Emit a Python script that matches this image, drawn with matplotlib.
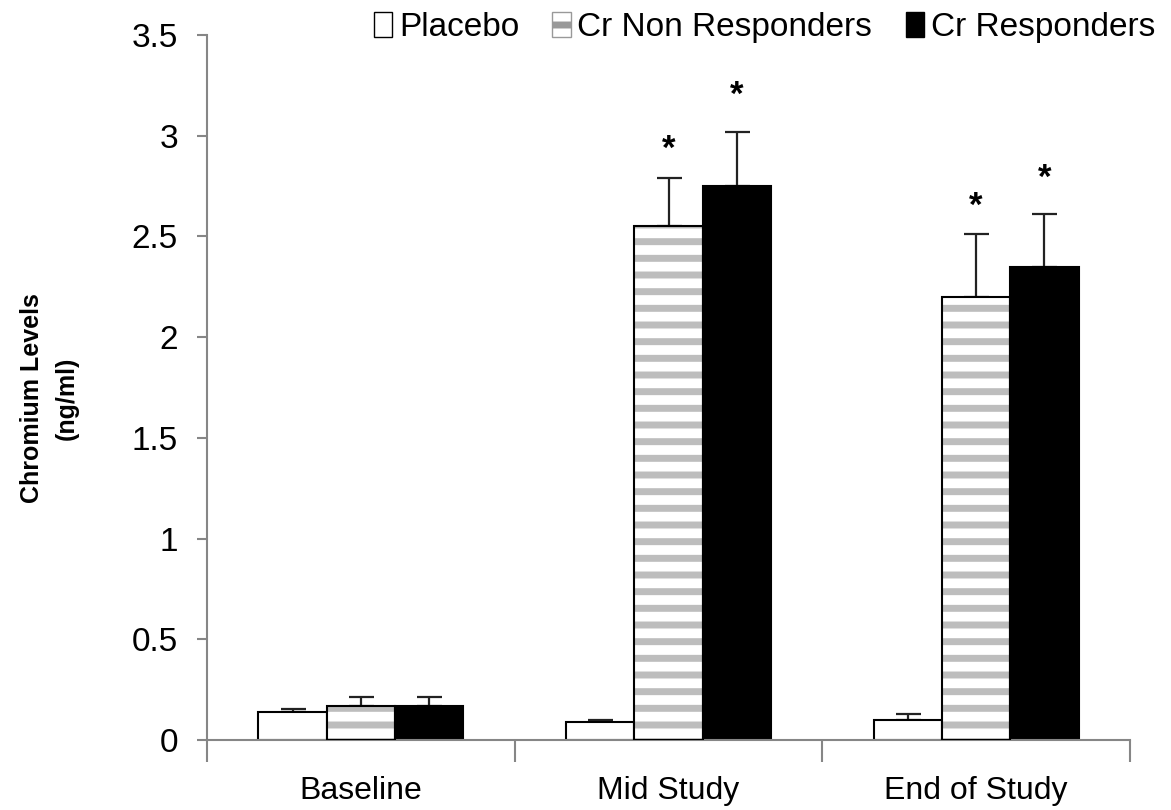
import matplotlib
matplotlib.use("Agg")
import matplotlib.pyplot as plt
import numpy as np
from matplotlib.patches import Patch

plt.rcParams['font.family'] = ['Liberation Sans', 'DejaVu Sans']
plt.rcParams['hatch.linewidth'] = 5.0

categories = ["Baseline", "Mid Study", "End of Study"]
series = ["Placebo", "Cr Non Responders", "Cr Responders"]
placebo = [0.14, 0.088, 0.10]
placebo_err = [0.012, 0.012, 0.03]
nonresp = [0.17, 2.55, 2.20]
nonresp_err = [0.045, 0.24, 0.31]
resp = [0.17, 2.75, 2.35]
resp_err = [0.045, 0.27, 0.26]
nonresp_sig = [False, True, True]
resp_sig = [False, True, True]

fig = plt.figure(figsize=(11.71, 8.10), dpi=100)
ax = fig.add_axes([0.1768, 0.0864, 0.965 - 0.1768, 0.9568 - 0.0864])

x = np.arange(len(categories))
w = 0.222
gray = '#868686'
stripe = '#bdbdbd'

ax.bar(x - w, placebo, w, color='white', edgecolor='black', linewidth=1.5, zorder=2)
# striped fill (hatch uses edge colour), then black outline on top
ax.bar(x, nonresp, w, color='white', edgecolor=stripe, linewidth=0, hatch='-', zorder=2)
ax.bar(x, nonresp, w, fill=False, edgecolor='black', linewidth=1.5, zorder=3)
ax.bar(x + w, resp, w, color='black', edgecolor='black', linewidth=1.5, zorder=2)

for off, vals, errs in [(-w, placebo, placebo_err), (0, nonresp, nonresp_err), (w, resp, resp_err)]:
    ax.errorbar(x + off, vals, yerr=[np.zeros(len(errs)), errs], fmt='none', ecolor='#222222',
                elinewidth=1.6, capsize=9, capthick=1.6, zorder=1)

for i in range(len(categories)):
    if nonresp_sig[i]:
        ax.text(x[i], nonresp[i] + nonresp_err[i] + 0.14, '*', ha='center', va='center', fontsize=25, fontweight='bold')
    if resp_sig[i]:
        ax.text(x[i] + w, resp[i] + resp_err[i] + 0.18, '*', ha='center', va='center', fontsize=25, fontweight='bold')

ax.set_xlim(-0.5, 2.5)
ax.set_ylim(0, 3.5)
ax.set_yticks([0, 0.5, 1, 1.5, 2, 2.5, 3, 3.5])
ax.set_yticklabels(['0', '0.5', '1', '1.5', '2', '2.5', '3', '3.5'])
ax.set_xticks([-0.5, 0.5, 1.5, 2.5])
ax.set_xticklabels([])
ax.set_xticks(x, minor=True)
ax.set_xticklabels(categories, minor=True)
ax.tick_params(axis='x', which='major', length=16, color=gray, width=1.5, direction='out')
ax.tick_params(axis='x', which='minor', length=0, pad=26, labelsize=23)
ax.tick_params(axis='y', length=7, color=gray, width=1.5, pad=14, labelsize=24)

for s in ['top', 'right']:
    ax.spines[s].set_visible(False)
for s in ['left', 'bottom']:
    ax.spines[s].set_color(gray)
    ax.spines[s].set_linewidth(1.5)

fig.text(0.042, 0.508, 'Chromium Levels\n(ng/ml)', rotation=90, ha='center', va='center',
         fontsize=18, fontweight='bold', linespacing=1.55)

handles = [Patch(facecolor='white', edgecolor='black', linewidth=1.0),
           Patch(facecolor='white', edgecolor='#999999', hatch='-', linewidth=1.0),
           Patch(facecolor='black', edgecolor='black', linewidth=1.0)]
leg = fig.legend(handles, series, loc='upper right', bbox_to_anchor=(1.012, 1.022), ncol=3, frameon=False,
                 fontsize=24, handlelength=0.55, handleheight=0.75, handletextpad=0.2, columnspacing=1.0)

fig.savefig('out.png', dpi=100)
